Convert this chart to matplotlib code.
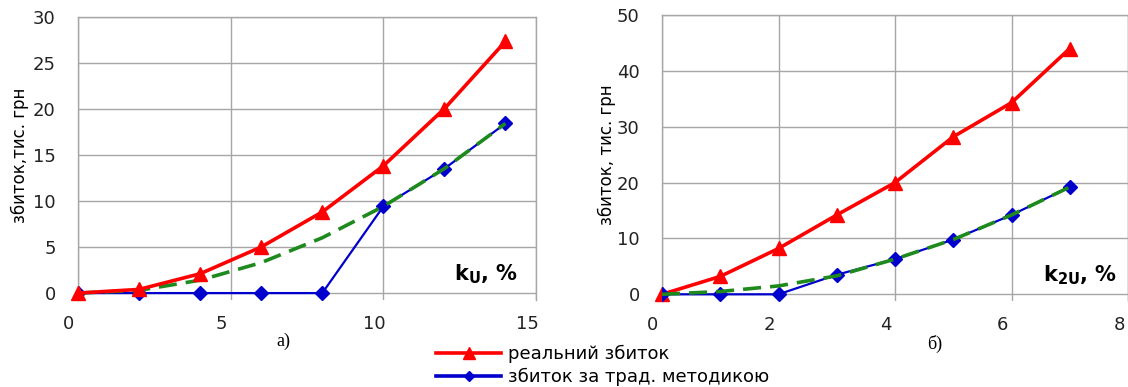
import numpy as np
import matplotlib
matplotlib.use("Agg")
import matplotlib.pyplot as plt
import matplotlib.transforms as mtransforms
from matplotlib.lines import Line2D

plt.rcParams['font.family'] = ['DejaVu Sans']
plt.rcParams['mathtext.fontset'] = 'dejavusans'

# left chart (a): loss vs k_U
left_x = [0, 2, 4, 6, 8, 10, 12, 14]
left_real = [0, 0.4, 2.1, 5.0, 8.8, 13.8, 20.0, 27.3]
left_trad = [0, 0, 0, 0, 0, 9.4, 13.5, 18.4]
left_approx = [0, 0.3, 1.4, 3.3, 6.0, 9.4, 13.5, 18.4]
left_xticks = [0, 5, 10, 15]
left_yticks = [0, 5, 10, 15, 20, 25, 30]

# right chart (б): loss vs k_2U
right_x = [0, 1, 2, 3, 4, 5, 6, 7]
right_real = [0, 3.2, 8.2, 14.2, 20.0, 28.2, 34.3, 44.0]
right_trad = [0, 0, 0, 3.5, 6.3, 9.8, 14.2, 19.2]
right_approx = [0, 0.5, 1.5, 3.3, 6.3, 9.8, 14.2, 19.2]
right_xticks = [0, 2, 4, 6, 8]
right_yticks = [0, 10, 20, 30, 40, 50]

legend_labels = ['реальний збиток', 'збиток за трад. методикою']

RED = '#FF0000'
BLUE = '#0000CC'
GREEN = '#1E8A1E'
GRID = '#A6A6A6'

fig = plt.figure(figsize=(11.28, 3.87), dpi=100)
ax1 = fig.add_axes([78 / 1128, 1 - 300 / 387, 458 / 1128, 283.5 / 387])
ax2 = fig.add_axes([662 / 1128, 1 - 301 / 387, 466 / 1128, 286 / 387])


def style_axes(ax, xticks, yticks, xlim, ylim):
    ax.set_xlim(*xlim)
    ax.set_ylim(*ylim)
    ax.set_xticks(xticks)
    ax.set_yticks(yticks)
    ax.grid(True, color=GRID, linewidth=1.0)
    ax.set_axisbelow(True)
    for s in ['left', 'top', 'right']:
        ax.spines[s].set_color(GRID)
        ax.spines[s].set_linewidth(1.0)
    ax.spines['bottom'].set_visible(False)
    ax.tick_params(length=0, labelsize=13, colors='#222222')
    ax.tick_params(axis='y', pad=16)
    ax.tick_params(axis='x', pad=11)
    shift = mtransforms.ScaledTranslation(-9 / 100, 0, fig.dpi_scale_trans)
    for lbl in ax.get_xticklabels():
        lbl.set_transform(lbl.get_transform() + shift)


# left chart
style_axes(ax1, left_xticks, left_yticks, (0, 15), (-0.75, 30))
ax1.plot(left_x, left_trad, color=BLUE, lw=1.6, marker='D', ms=7, zorder=3)
ax1.plot(left_x, left_approx, color=GREEN, lw=2.6, ls=(0, (5, 2.5)), zorder=4)
ax1.plot(left_x, left_real, color=RED, lw=2.6, marker='^', ms=10, zorder=5,
         clip_on=False)
ax1.text(0.89, 0.09, r'$\mathbf{k}_{\mathbf{U}}$, %', transform=ax1.transAxes,
         fontsize=15, fontweight='bold', ha='center', va='center')

# right chart
style_axes(ax2, right_xticks, right_yticks, (0, 8), (-1.2, 50))
ax2.plot(right_x, right_real, color=RED, lw=2.6, marker='^', ms=10, zorder=3,
         clip_on=False)
ax2.plot(right_x, right_trad, color=BLUE, lw=1.6, marker='D', ms=7, zorder=4)
ax2.plot(right_x, right_approx, color=GREEN, lw=2.6, ls=(0, (5, 2.5)), zorder=5)
ax2.text(0.897, 0.09, r'$\mathbf{k}_{\mathbf{2U}}$, %', transform=ax2.transAxes,
         fontsize=15, fontweight='bold', ha='center', va='center')

# axis titles
fig.text(20 / 1128, 1 - 155 / 387, 'збиток,тис. грн', rotation=90,
         fontsize=12, ha='center', va='center')
fig.text(607 / 1128, 1 - 155 / 387, 'збиток, тис. грн', rotation=90,
         fontsize=12, ha='center', va='center')

# panel captions
fig.text(283 / 1128, 1 - 341 / 387, 'а)', fontsize=13,
         family=['Liberation Serif'], ha='center', va='center')
fig.text(935 / 1128, 1 - 344 / 387, 'б)', fontsize=13,
         family=['Liberation Serif'], ha='center', va='center')

handles = [Line2D([], [], color=RED, lw=2.6, marker='^', ms=9),
           Line2D([], [], color=BLUE, lw=2.6, marker='D', ms=5)]
fig.legend(handles, legend_labels, loc='center left',
           bbox_to_anchor=(436 / 1128, 1 - 365.5 / 387), frameon=False,
           fontsize=13, handlelength=3.6, handletextpad=0.4,
           labelspacing=0.25, borderpad=0, borderaxespad=0)

fig.savefig('out.png', dpi=100)
